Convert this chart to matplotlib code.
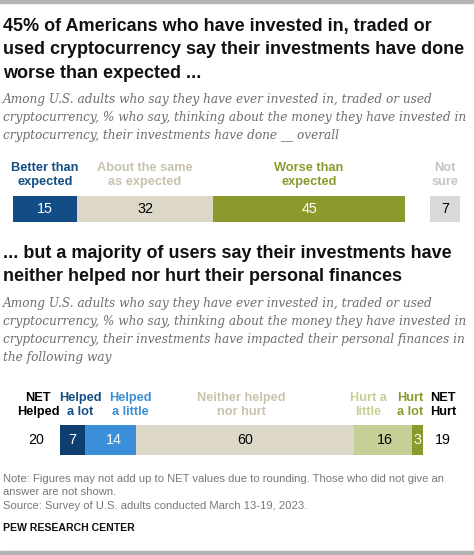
import matplotlib.pyplot as plt
from matplotlib.patches import Rectangle

# ---- data ----
top_cats = ["Better than\nexpected", "About the same\nas expected", "Worse than\nexpected"]
top_vals = [15, 32, 45]
notsure_label = "Not\nsure"
notsure_val = 7

bot_cats = ["Helped\na lot", "Helped\na little", "Neither helped\nnor hurt", "Hurt a\nlittle", "Hurt\na lot"]
bot_vals = [7, 14, 60, 16, 3]
net_helped = 20
net_hurt = 19

top_colors = ["#124d85", "#dcd7c7", "#8c9a2d"]
top_label_colors = ["#124d85", "#c9c2ad", "#8c9a2d"]
top_val_colors = ["white", "black", "white"]
bot_colors = ["#0d3e6f", "#3a8fd8", "#dcd7c7", "#c4d095", "#8c9a2d"]
bot_label_colors = ["#124d85", "#3a8fd8", "#c9c2ad", "#c4d095", "#8c9a2d"]
bot_val_colors = ["white", "white", "black", "black", "white"]

W, H = 474, 555
fig = plt.figure(figsize=(W / 100, H / 100), dpi=100)
SANS = "Liberation Sans"
SERIF = "DejaVu Serif"
LAB_FS = 9.2
VAL_FS = 10.3

def ty(p):
    return 1 - p / H

def tx(p):
    return p / W

def fig_x(ax, xv):
    return ax.transData.transform((xv, 0))[0] / fig.dpi / fig.get_figwidth()

# grey bands top/bottom
fig.patches.append(Rectangle((0, ty(2.5)), 1, 2.5 / H, transform=fig.transFigure, color="#b3b3b3"))
fig.patches.append(Rectangle((0, 0), 1, 4 / H, transform=fig.transFigure, color="#b3b3b3"))

title1 = "45% of Americans who have invested in, traded or\nused cryptocurrency say their investments have done\nworse than expected ..."
fig.text(tx(3), ty(17.5), title1, ha="left", va="top", fontsize=13, fontweight="bold",
         family=SANS, linespacing=1.5, color="#111111")
sub1 = ("Among U.S. adults who say they have ever invested in, traded or used\n"
        "cryptocurrency, % who say, thinking about the money they have invested in\n"
        "cryptocurrency, their investments have done __ overall")
fig.text(tx(3), ty(93), sub1, ha="left", va="top", fontsize=8.7, style="italic",
         family=SERIF, linespacing=1.5, color="#6e6e6e")

# ---- chart 1 ----
ppu1 = 4.26
x0_1 = 13
ax1 = fig.add_axes([0, ty(222), 1, (222 - 196) / H])
ax1.set_xlim(-x0_1 / ppu1, (W - x0_1) / ppu1)
ax1.set_ylim(0, 1)
ax1.axis("off")
left = 0
for lab, v, c, lc, vc in zip(top_cats, top_vals, top_colors, top_label_colors, top_val_colors):
    ax1.barh(0.5, v, left=left, height=1, color=c)
    ax1.text(left + v / 2, 0.5, str(v), ha="center", va="center", color=vc, fontsize=VAL_FS, family=SANS)
    fig.text(fig_x(ax1, left + v / 2), ty(175), lab, ha="center", va="center", color=lc,
             fontsize=LAB_FS, fontweight="bold", family=SANS, linespacing=1.15)
    left += v
ns_left = left + 5.9
ax1.barh(0.5, notsure_val, left=ns_left, height=1, color="#d9d9d9")
ax1.text(ns_left + notsure_val / 2, 0.5, str(notsure_val), ha="center", va="center",
         color="black", fontsize=VAL_FS, family=SANS)
fig.text(fig_x(ax1, ns_left + notsure_val / 2), ty(175), notsure_label, ha="center", va="center",
         color="#c4c4c4", fontsize=LAB_FS, fontweight="bold", family=SANS, linespacing=1.15)

title2 = "... but a majority of users say their investments have\nneither helped nor hurt their personal finances"
fig.text(tx(3), ty(245), title2, ha="left", va="top", fontsize=13, fontweight="bold",
         family=SANS, linespacing=1.45, color="#111111")
sub2 = ("Among U.S. adults who say they have ever invested in, traded or used\n"
        "cryptocurrency, % who say, thinking about the money they have invested in\n"
        "cryptocurrency, their investments have impacted their personal finances in\n"
        "the following way")
fig.text(tx(3), ty(297), sub2, ha="left", va="top", fontsize=8.7, style="italic",
         family=SERIF, linespacing=1.5, color="#6e6e6e")

# ---- chart 2 ----
ppu2 = 3.63
x0_2 = 60
ax2 = fig.add_axes([0, ty(455), 1, (455 - 425) / H])
ax2.set_xlim(-x0_2 / ppu2, (W - x0_2) / ppu2)
ax2.set_ylim(0, 1)
ax2.axis("off")
label_shift = [2, 5.5, -1, -4, -2]
val_shift = [0, 0.7, 0, 0.5, 0]
left = 0
for lab, v, c, lc, vc, sh, vs in zip(bot_cats, bot_vals, bot_colors, bot_label_colors,
                                     bot_val_colors, label_shift, val_shift):
    ax2.barh(0.5, v, left=left, height=1, color=c)
    ax2.text(left + v / 2 + vs, 0.5, str(v), ha="center", va="center", color=vc,
             fontsize=VAL_FS, family=SANS)
    fig.text(fig_x(ax2, left + v / 2 + sh), ty(405), lab, ha="center", va="center", color=lc,
             fontsize=LAB_FS, fontweight="bold", family=SANS, linespacing=1.15)
    left += v
fig.text(tx(38), ty(405), "NET\nHelped", ha="center", va="center", color="black", fontsize=LAB_FS,
         fontweight="bold", family=SANS, linespacing=1.15)
fig.text(tx(443), ty(405), "NET\nHurt", ha="center", va="center", color="black", fontsize=LAB_FS,
         fontweight="bold", family=SANS, linespacing=1.15)
fig.text(tx(36), ty(440), str(net_helped), ha="center", va="center", fontsize=VAL_FS, family=SANS)
fig.text(tx(443), ty(440), str(net_hurt), ha="center", va="center", fontsize=VAL_FS, family=SANS)

note = ("Note: Figures may not add up to NET values due to rounding. Those who did not give an\n"
        "answer are not shown.\n"
        "Source: Survey of U.S. adults conducted March 13-19, 2023.")
fig.text(tx(3), ty(474), note, ha="left", va="top", fontsize=8.1, family=SANS,
         color="#787878", linespacing=1.42)
fig.text(tx(3), ty(528), "PEW RESEARCH CENTER", ha="left", va="center", fontsize=7.6,
         fontweight="bold", family=SANS, color="#111111")

fig.savefig("out.png", dpi=100)
